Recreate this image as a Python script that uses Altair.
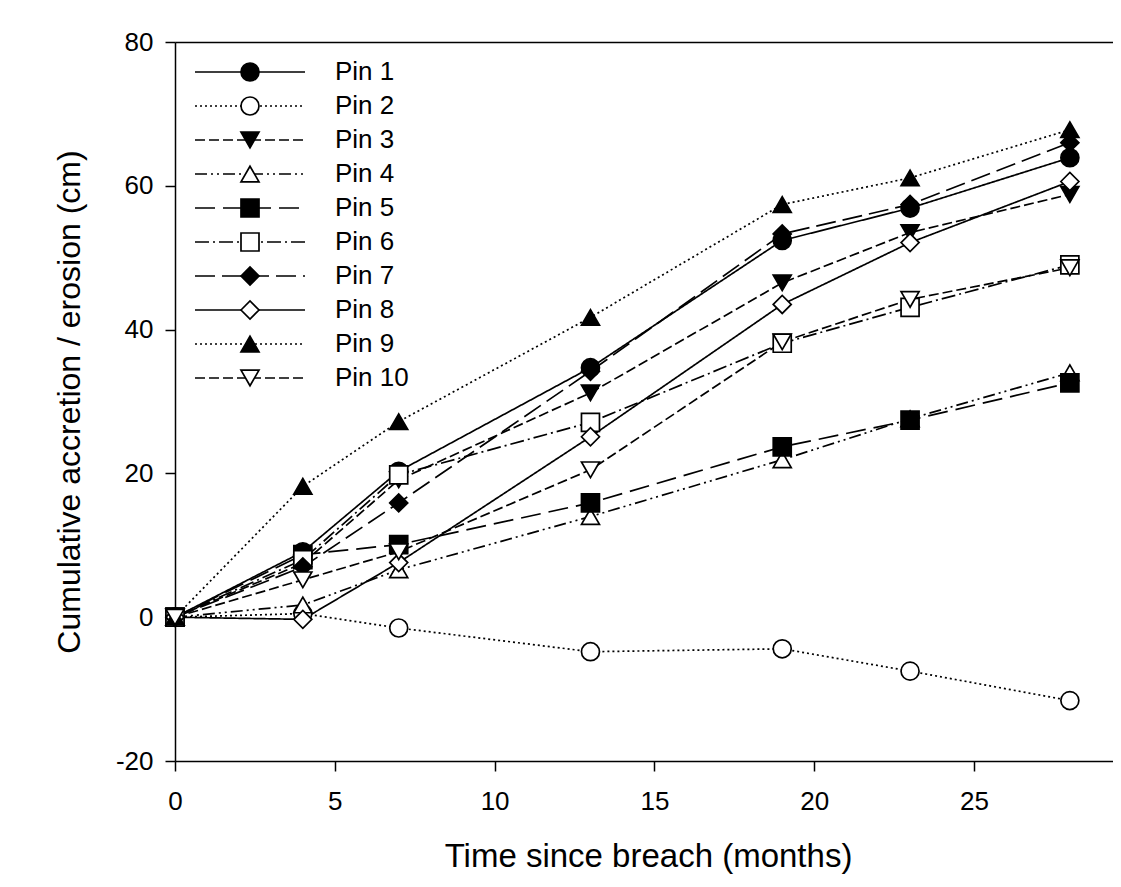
import altair as alt
import pandas as pd

months = [0, 4, 7, 13, 19, 23, 28]
pins = ["Pin 1", "Pin 2", "Pin 3", "Pin 4", "Pin 5",
        "Pin 6", "Pin 7", "Pin 8", "Pin 9", "Pin 10"]

pin1 = [0, 9.1, 20.3, 34.7, 52.4, 56.9, 63.9]
pin2 = [0, 0.5, -1.5, -4.8, -4.4, -7.5, -11.6]
pin3 = [0, 7.5, 19.1, 31.2, 46.5, 53.5, 58.8]
pin4 = [0, 1.7, 6.6, 14.0, 21.9, 27.6, 34.0]
pin5 = [0, 8.7, 10.1, 15.9, 23.7, 27.4, 32.6]
pin6 = [0, 8.0, 19.8, 27.1, 38.1, 43.1, 49.0]
pin7 = [0, 7.0, 15.9, 34.2, 53.3, 57.4, 66.0]
pin8 = [0, -0.3, 7.6, 25.1, 43.5, 52.1, 60.6]
pin9 = [0, 18.2, 27.2, 41.7, 57.4, 61.1, 67.8]
pin10 = [0, 5.2, 9.1, 20.5, 38.3, 44.2, 48.6]
series = [pin1, pin2, pin3, pin4, pin5, pin6, pin7, pin8, pin9, pin10]

x_ticks = [0, 5, 10, 15, 20, 25, 30]
y_ticks = [-20, 0, 20, 40, 60, 80]

# styles
dashes = [[1, 0], [2, 3], [10, 4], [12, 4, 2, 4, 2, 4], [20, 8],
          [14, 4, 2, 4], [20, 7], [1, 0], [2, 3], [10, 4]]
shapes = ["circle", "circle", "triangle-down", "triangle-up", "square",
          "square", "diamond", "diamond", "triangle-up", "triangle-down"]
fills = ["black", "white", "black", "white", "black",
         "white", "black", "white", "black", "white"]
sizes = [324, 324, 324, 324, 256, 256, 400, 400, 324, 324]

rows = []
for p, vals in zip(pins, series):
    for m, v in zip(months, vals):
        rows.append({"Pin": p, "Month": m, "Value": v})
df = pd.DataFrame(rows)
leg = pd.DataFrame({"Pin": pins})

FONT = "Liberation Sans"

dash_scale = alt.Scale(domain=pins, range=dashes)
shape_scale = alt.Scale(domain=pins, range=shapes)
fill_scale = alt.Scale(domain=pins, range=fills)
size_scale = alt.Scale(domain=pins, range=sizes)
x_scale = alt.Scale(domain=[0, 29.6], nice=False, zero=False)
y_scale = alt.Scale(domain=[-20, 80], nice=False, zero=False)
leg_y = alt.Scale(type="point", domain=pins, range=[30, 336], padding=0)

x_bottom = alt.X(
    "Month:Q", scale=x_scale, title="Time since breach (months)",
    axis=alt.Axis(values=x_ticks, tickSize=10, tickWidth=1.5, tickColor="black",
                  domainColor="black", domainWidth=1.5, labelFontSize=26,
                  labelFont=FONT, labelColor="black", labelPadding=17,
                  labelFlush=False, labelOverlap=False, grid=False,
                  titleFontSize=33, titleFont=FONT, titleFontWeight="normal",
                  titleColor="black", titlePadding=26))
x_top = alt.X(
    "Month:Q", scale=x_scale, title="",
    axis=alt.Axis(orient="top", labels=False, ticks=False, grid=False,
                  domainColor="black", domainWidth=1.5))
y_left = alt.Y(
    "Value:Q", scale=y_scale, title="Cumulative accretion / erosion (cm)",
    axis=alt.Axis(values=y_ticks, tickSize=10, tickWidth=1.5, tickColor="black",
                  domainColor="black", domainWidth=1.5, labelFontSize=26,
                  labelFont=FONT, labelColor="black", labelPadding=12,
                  labelExpr="datum.value + ''",
                  grid=False, titleFontSize=32, titleFont=FONT,
                  titleFontWeight="normal", titleColor="black", titlePadding=29))
y_plain = alt.Y("Value:Q", scale=y_scale, axis=None)

lines = alt.Chart(df).mark_line(color="black", strokeWidth=1.7).encode(
    x=x_bottom, y=y_left,
    strokeDash=alt.StrokeDash("Pin:N", scale=dash_scale, legend=None),
    order="Month:Q",
)

points = alt.Chart(df).mark_point(filled=True, stroke="black", strokeWidth=1.7,
                                  opacity=1).encode(
    x=x_top, y=y_plain,
    shape=alt.Shape("Pin:N", scale=shape_scale, legend=None),
    fill=alt.Fill("Pin:N", scale=fill_scale, legend=None),
    size=alt.Size("Pin:N", scale=size_scale, legend=None),
)

leg_rule = alt.Chart(leg).mark_rule(color="black", strokeWidth=1.7).encode(
    x=alt.value(20), x2=alt.value(130),
    y=alt.Y("Pin:N", sort=pins, scale=leg_y, axis=None),
    strokeDash=alt.StrokeDash("Pin:N", scale=dash_scale, legend=None),
)
leg_pts = alt.Chart(leg).mark_point(filled=True, stroke="black", strokeWidth=1.7,
                                    opacity=1).encode(
    x=alt.value(75),
    y=alt.Y("Pin:N", sort=pins, scale=leg_y, axis=None),
    shape=alt.Shape("Pin:N", scale=shape_scale, legend=None),
    fill=alt.Fill("Pin:N", scale=fill_scale, legend=None),
    size=alt.Size("Pin:N", scale=size_scale, legend=None),
)
leg_txt = alt.Chart(leg).mark_text(align="left", baseline="middle", fontSize=26,
                                   font=FONT, color="black").encode(
    x=alt.value(160),
    y=alt.Y("Pin:N", sort=pins, scale=leg_y, axis=None),
    text="Pin:N",
)

chart = alt.layer(lines, points, leg_rule, leg_pts, leg_txt).resolve_scale(
    y="independent"
).resolve_axis(
    x="independent"
).properties(
    width=946, height=719,
    padding={"left": 167, "top": 34, "right": -8, "bottom": 118},
    autosize=alt.AutoSizeParams(type="none"),
).configure_view(stroke=None).configure(background="white")

chart.save("out.html", embed_options={"renderer": "svg", "actions": False})
